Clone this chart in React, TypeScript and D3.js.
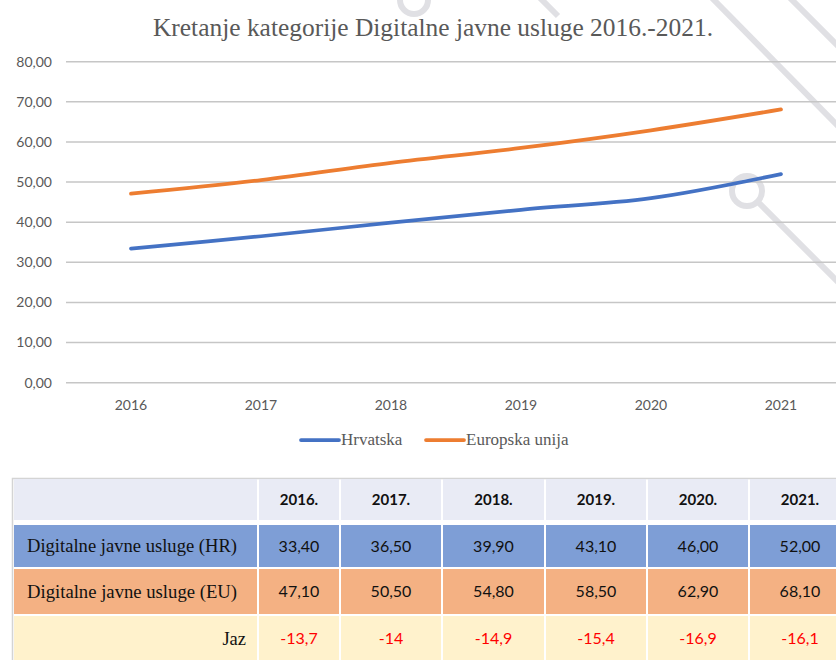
import React, { useEffect, useRef } from "react";
import * as d3 from "d3";

const years = ["2016", "2017", "2018", "2019", "2020", "2021"];
const hrValues = [33.4, 36.5, 39.9, 43.1, 46.0, 52.0];
const euValues = [47.1, 50.5, 54.8, 58.5, 62.9, 68.1];
const gapValues = ["-13,7", "-14", "-14,9", "-15,4", "-16,9", "-16,1"];
const yTicks = [0, 10, 20, 30, 40, 50, 60, 70, 80];
const seriesNames = ["Hrvatska", "Europska unija"];
const rowLabels = ["Digitalne javne usluge (HR)", "Digitalne javne usluge (EU)", "Jaz"];

const BLUE = "#4472C4";
const ORANGE = "#ED7D31";
const GREY_TEXT = "#595959";
const SANS = "Lato, 'Open Sans', sans-serif";
const SERIF = "'Liberation Serif', 'DejaVu Serif', serif";

const fmt = (v: number) => v.toFixed(2).replace(".", ",");

const App = () => {
  const ref = useRef<SVGSVGElement>(null);

  useEffect(() => {
    const svg = d3.select(ref.current);
    svg.selectAll("*").remove();

    // background decoration (light grey circuit lines)
    const deco = svg.append("g").attr("stroke", "#E0E0E4").attr("stroke-width", 6).attr("fill", "none");
    deco.append("line").attr("x1", 712).attr("y1", -2).attr("x2", 840).attr("y2", 128);
    deco.append("line").attr("x1", 790).attr("y1", -2).attr("x2", 840).attr("y2", 48);
    deco.append("circle").attr("cx", 747).attr("cy", 191).attr("r", 15);
    deco.append("line").attr("x1", 758).attr("y1", 202).attr("x2", 840).attr("y2", 284);
    deco.append("circle").attr("cx", 414).attr("cy", 0).attr("r", 14);
    deco.append("line").attr("x1", 540).attr("y1", -2).attr("x2", 558).attr("y2", 16);

    // title
    svg
      .append("text")
      .attr("x", 433)
      .attr("y", 36)
      .attr("text-anchor", "middle")
      .attr("font-family", SERIF)
      .attr("font-size", 25)
      .attr("textLength", 560)
      .attr("lengthAdjust", "spacingAndGlyphs")
      .attr("fill", GREY_TEXT)
      .text("Kretanje kategorije Digitalne javne usluge 2016.-2021.");

    // scales
    const x = d3.scaleBand().domain(years).range([66, 846]);
    const cx = (d: string) => (x(d) ?? 0) + x.bandwidth() / 2;
    const y = d3.scaleLinear().domain([0, 80]).range([382.7, 61.7]);

    // grid + y labels
    const grid = svg.append("g");
    grid
      .selectAll("line")
      .data(yTicks)
      .join("line")
      .attr("x1", 66)
      .attr("x2", 836)
      .attr("y1", (d) => y(d))
      .attr("y2", (d) => y(d))
      .attr("stroke", "#C6C6C6")
      .attr("stroke-width", 1.5);
    grid
      .selectAll("text")
      .data(yTicks)
      .join("text")
      .attr("x", 52)
      .attr("y", (d) => y(d))
      .attr("dy", "0.35em")
      .attr("text-anchor", "end")
      .attr("font-family", SANS)
      .attr("font-size", 14)
      .attr("fill", GREY_TEXT)
      .text((d) => fmt(d));

    // x labels
    svg
      .append("g")
      .selectAll("text")
      .data(years)
      .join("text")
      .attr("x", (d) => cx(d))
      .attr("y", 410)
      .attr("text-anchor", "middle")
      .attr("font-family", SANS)
      .attr("font-size", 14)
      .attr("fill", GREY_TEXT)
      .text((d) => d);

    // lines
    const line = d3
      .line<number>()
      .x((_, i) => cx(years[i]))
      .y((d) => y(d))
      .curve(d3.curveCatmullRom.alpha(0));
    [
      { values: hrValues, color: BLUE },
      { values: euValues, color: ORANGE },
    ].forEach((s) => {
      svg
        .append("path")
        .attr("d", line(s.values))
        .attr("fill", "none")
        .attr("stroke", s.color)
        .attr("stroke-width", 3.75)
        .attr("stroke-linecap", "round");
    });

    // legend
    const legend = svg.append("g");
    const legendX = [301, 426];
    seriesNames.forEach((name, i) => {
      legend
        .append("line")
        .attr("x1", legendX[i])
        .attr("x2", legendX[i] + 38)
        .attr("y1", 440)
        .attr("y2", 440)
        .attr("stroke", i === 0 ? BLUE : ORANGE)
        .attr("stroke-width", 3.75)
        .attr("stroke-linecap", "round");
      legend
        .append("text")
        .attr("x", legendX[i] + 40)
        .attr("y", 445)
        .attr("font-family", SERIF)
        .attr("font-size", 17)
        .attr("fill", GREY_TEXT)
        .text(name);
    });

    // table
    const table = svg.append("g");
    const colEdges = [14, 259, 341, 443, 546, 648, 750, 852];
    const rowEdges = [479, 522, 569, 616, 663];
    const rowFills = ["#E9EBF5", "#7E9ED6", "#F4B183", "#FFF2CC"];
    const gap = 2;

    table
      .append("path")
      .attr("d", "M12.5,662 V478.5 H836")
      .attr("fill", "none")
      .attr("stroke", "#D4D4D4")
      .attr("stroke-width", 1.5);

    rowFills.forEach((fill, r) => {
      const top = rowEdges[r] + (r === 1 ? 3 : 0);
      const bottom = rowEdges[r + 1] - gap;
      for (let c = 0; c < colEdges.length - 1; c++) {
        table
          .append("rect")
          .attr("x", colEdges[c])
          .attr("y", top)
          .attr("width", colEdges[c + 1] - colEdges[c] - gap)
          .attr("height", bottom - top)
          .attr("fill", fill);
      }
    });

    const colCenter = (c: number) => (colEdges[c + 1] + colEdges[c] - gap) / 2;
    const rowCenter = (r: number) => (rowEdges[r] + rowEdges[r + 1] - gap + (r === 1 ? 3 : 0)) / 2;

    // header
    years.forEach((yr, i) => {
      table
        .append("text")
        .attr("x", colCenter(i + 1))
        .attr("y", rowCenter(0))
        .attr("dy", "0.35em")
        .attr("text-anchor", "middle")
        .attr("font-family", SANS)
        .attr("font-weight", "bold")
        .attr("font-size", 15)
        .attr("fill", "#111")
        .text(yr + ".");
    });

    // row labels
    rowLabels.forEach((lbl, r) => {
      const last = r === rowLabels.length - 1;
      const t = table
        .append("text")
        .attr("x", last ? 246 : 27)
        .attr("y", rowCenter(r + 1))
        .attr("dy", "0.33em")
        .attr("text-anchor", last ? "end" : "start")
        .attr("font-family", SERIF)
        .attr("font-size", 18.5)
        .attr("fill", "#111")
        .text(lbl);
      if (!last) t.attr("textLength", 210).attr("lengthAdjust", "spacingAndGlyphs");
    });

    // values
    const rows = [hrValues.map(fmt), euValues.map(fmt), gapValues];
    rows.forEach((vals, r) => {
      vals.forEach((v, i) => {
        table
          .append("text")
          .attr("x", colCenter(i + 1))
          .attr("y", rowCenter(r + 1))
          .attr("dy", "0.35em")
          .attr("text-anchor", "middle")
          .attr("font-family", SANS)
          .attr("font-size", 16)
          .attr("fill", r === 2 ? "#FF0000" : "#111")
          .text(v);
      });
    });
  }, []);

  return (
    <div>
      <svg
        ref={ref}
        width={836}
        height={660}
        style={{ position: "absolute", left: 0, top: 0, background: "#fff", display: "block" }}
      ></svg>
    </div>
  );
};

export default App;
